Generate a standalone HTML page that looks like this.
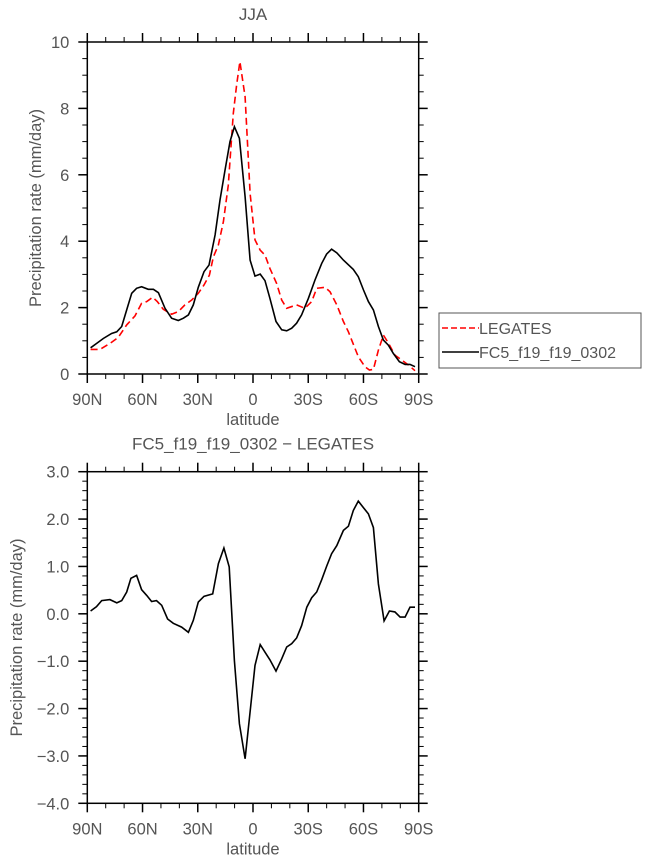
<!DOCTYPE html>
<html><head><meta charset="utf-8"><style>
body{margin:0;background:#fff;}
svg{display:block;font-family:"Liberation Sans",sans-serif;}
</style></head><body>
<svg id="c" width="646" height="862" xmlns="http://www.w3.org/2000/svg"></svg>
<script>
const latTopBlack=[88.2,85,81.3,76.8,74,71.3,65.9,63.2,60.5,56.9,54.1,51.4,47.8,44.2,40.6,37.8,35.1,32.4,29.7,26.6,23.9,20.6,17.9,15.2,12.5,10.1,7.4,4.3,1.6,-1.1,-3.9,-6.5,-9.2,-12.5,-15.6,-18.3,-21,-23.7,-26.4,-30.1,-33.7,-37.3,-40,-42.7,-45.5,-49.1,-54.5,-57.2,-60,-62.7,-65.4,-68.1,-70.8,-73.5,-76.2,-79.5,-82.6,-85.3,-88];
const valTopBlack=[0.79,0.92,1.07,1.22,1.27,1.43,2.43,2.58,2.63,2.55,2.55,2.45,1.98,1.68,1.61,1.68,1.78,2.08,2.61,3.08,3.28,4.19,5.24,6.14,7.0,7.45,7.1,5.34,3.43,2.95,3.01,2.81,2.28,1.58,1.33,1.3,1.38,1.53,1.78,2.28,2.83,3.33,3.61,3.76,3.65,3.43,3.15,2.93,2.53,2.18,1.93,1.43,1.02,0.87,0.62,0.37,0.29,0.29,0.22];
const latTopRed=[88.2,83.1,77.7,73.2,68.6,64.1,60.5,57.8,54.5,52,48.7,44.2,40.6,37,33.3,29.7,26.6,23.7,21.5,18.8,16.1,13.4,10.7,8.9,7.1,4.3,1.6,-1.1,-3.9,-6.5,-9.2,-12.8,-15.6,-18.3,-23.7,-28.2,-31.9,-34.6,-39.1,-41.8,-45.5,-49.1,-51.8,-57.2,-60.8,-63.2,-65.4,-68.1,-70.8,-73.5,-77.1,-80.8,-84.4,-88];
const valTopRed=[0.74,0.74,0.92,1.1,1.48,1.75,2.13,2.18,2.31,2.18,1.95,1.8,1.88,2.08,2.23,2.43,2.68,2.98,3.53,3.89,4.59,5.69,7.85,8.7,9.41,8.35,5.44,4.04,3.73,3.58,3.18,2.73,2.23,1.98,2.08,1.98,2.18,2.58,2.61,2.48,2.08,1.58,1.27,0.52,0.22,0.12,0.14,0.72,1.17,0.94,0.57,0.42,0.27,0.1];
const latDiff=[88.2,85,82.2,77.7,74,71.3,68.6,66.3,63.2,60.5,57.8,55.1,52.4,49.6,46.4,43.3,38.8,35.1,32.4,29.7,26.6,21.9,18.8,15.8,12.9,10.1,7.4,4.3,1.3,-1.1,-3.9,-6.5,-9.2,-12.5,-15.6,-18.3,-21,-23.7,-26.4,-29.2,-31.9,-34.6,-37.3,-40,-42.7,-45.5,-49.1,-51.8,-54.5,-57.2,-60,-62.7,-65.4,-68.1,-71.2,-74.1,-77.1,-79.9,-82.6,-85.3,-88];
const valDiff=[0.06,0.15,0.28,0.30,0.23,0.28,0.46,0.75,0.81,0.51,0.39,0.26,0.28,0.18,-0.11,-0.2,-0.28,-0.39,-0.14,0.25,0.37,0.42,1.06,1.39,0.99,-0.99,-2.32,-3.06,-1.97,-1.09,-0.65,-0.81,-0.97,-1.21,-0.95,-0.7,-0.63,-0.51,-0.25,0.14,0.34,0.46,0.72,1.0,1.27,1.44,1.76,1.85,2.18,2.38,2.24,2.11,1.82,0.63,-0.15,0.06,0.04,-0.07,-0.07,0.14,0.14];
const xTickLats=[90,60,30,0,-30,-60,-90];
const xTickLabels=["90N","60N","30N","0","30S","60S","90S"];
const yTicksTop=[0,2,4,6,8,10];
const yTicksDiff=[-4,-3,-2,-1,0,1,2,3];

const NS="http://www.w3.org/2000/svg";
const svg=document.getElementById('c');
function mk(tag,attrs,parent){const e=document.createElementNS(NS,tag);for(const k in attrs)e.setAttribute(k,attrs[k]);(parent||svg).appendChild(e);return e;}
const X0=87.3,X1=418.7;
function xs(lat){return X0+(90-lat)/180*(X1-X0);}

function panel(name,top,bot,ymin,ymax,yticks,minorStep,fmt,title,ytitleX){
  const g=mk('g',{});
  
  
  const ys=v=>bot-(v-ymin)/(ymax-ymin)*(bot-top);
  for(let v=ymin;v<=ymax+1e-6;v+=minorStep){const y=ys(v);
    mk('line',{x1:X0-5,x2:X0,y1:y,y2:y,stroke:'#000','stroke-width':1},g);
    mk('line',{x1:X1,x2:X1+5,y1:y,y2:y,stroke:'#000','stroke-width':1},g);}
  for(let l=90;l>=-90;l-=10){const x=xs(l);
    mk('line',{x1:x,x2:x,y1:top-5,y2:top,stroke:'#000','stroke-width':1},g);
    mk('line',{x1:x,x2:x,y1:bot,y2:bot+5,stroke:'#000','stroke-width':1},g);}
  yticks.forEach(v=>{const y=ys(v);
    mk('line',{x1:X0-9,x2:X0,y1:y,y2:y,stroke:'#000','stroke-width':1.5},g);
    mk('line',{x1:X1,x2:X1+9,y1:y,y2:y,stroke:'#000','stroke-width':1.5},g);
    const t=mk('text',{x:X0-18,y:y+6,'text-anchor':'end','font-size':16.5,fill:'#555'},g);t.textContent=fmt(v);
    
    });
  xTickLats.forEach((l,i)=>{const x=xs(l);
    mk('line',{x1:x,x2:x,y1:top-9,y2:top,stroke:'#000','stroke-width':1.5},g);
    mk('line',{x1:x,x2:x,y1:bot,y2:bot+9,stroke:'#000','stroke-width':1.5},g);
    const t=mk('text',{x:x,y:bot+31,'text-anchor':'middle','font-size':16.5,fill:'#555'},g);t.textContent=xTickLabels[i];
    
    });
  const fr=mk('rect',{x:X0,y:top,width:X1-X0,height:bot-top,fill:'none',stroke:'#000','stroke-width':1.5},g);
  
  
  const xt=mk('text',{x:(X0+X1)/2,y:bot+51,'text-anchor':'middle','font-size':16.5,fill:'#555'},g);xt.textContent='latitude';
  
  
  const cy=(top+bot)/2;
  const yt=mk('text',{x:0,y:0,transform:`translate(${ytitleX},${cy}) rotate(-90)`,'text-anchor':'middle','font-size':16.5,fill:'#555'},g);yt.textContent='Precipitation rate (mm/day)';
  
  
  const tt=mk('text',{x:(X0+X1)/2,y:top-22,'text-anchor':'middle','font-size':17,fill:'#555'},g);tt.textContent=title;
  
  
  return {g,ys};
}
function series(p,lats,vals,color,dash,name){
  const d=lats.map((l,i)=>(i?'L':'M')+xs(l).toFixed(1)+','+p.ys(vals[i]).toFixed(1)).join('');
  const a={d:d,fill:'none',stroke:color,'stroke-width':1.6};if(dash)a['stroke-dasharray']=dash;
  const e=mk('path',a,p.g);
  
  
}
const p1=panel('top-panel',42,374,0,10,yTicksTop,0.5,v=>String(v),'JJA',41);
series(p1,latTopRed,valTopRed,'#f00','7,4','legates-line');
series(p1,latTopBlack,valTopBlack,'#000',null,'fc5-line');
const p2=panel('difference-panel',471.7,803.3,-4,3,yTicksDiff,0.2,v=>(v<0?'\u2212':'')+Math.abs(v).toFixed(1),'FC5_f19_f19_0302 \u2212 LEGATES',22);
series(p2,latDiff,valDiff,'#000',null,'difference-line');

const lg=mk('g',{});


mk('rect',{x:439,y:313,width:202,height:55,fill:'#fff',stroke:'#555','stroke-width':1},lg);
const e1=mk('g',{},lg);


mk('line',{x1:442,x2:479,y1:328,y2:328,stroke:'#f00','stroke-width':1.6,'stroke-dasharray':'6,3'},e1);
const t1=mk('text',{x:479,y:334,'font-size':16,fill:'#555'},e1);t1.textContent='LEGATES';
const e2=mk('g',{},lg);


mk('line',{x1:442,x2:479,y1:352,y2:352,stroke:'#000','stroke-width':1.6},e2);
const t2=mk('text',{x:479,y:358,'font-size':16,fill:'#555'},e2);t2.textContent='FC5_f19_f19_0302';
</script>
</body></html>
